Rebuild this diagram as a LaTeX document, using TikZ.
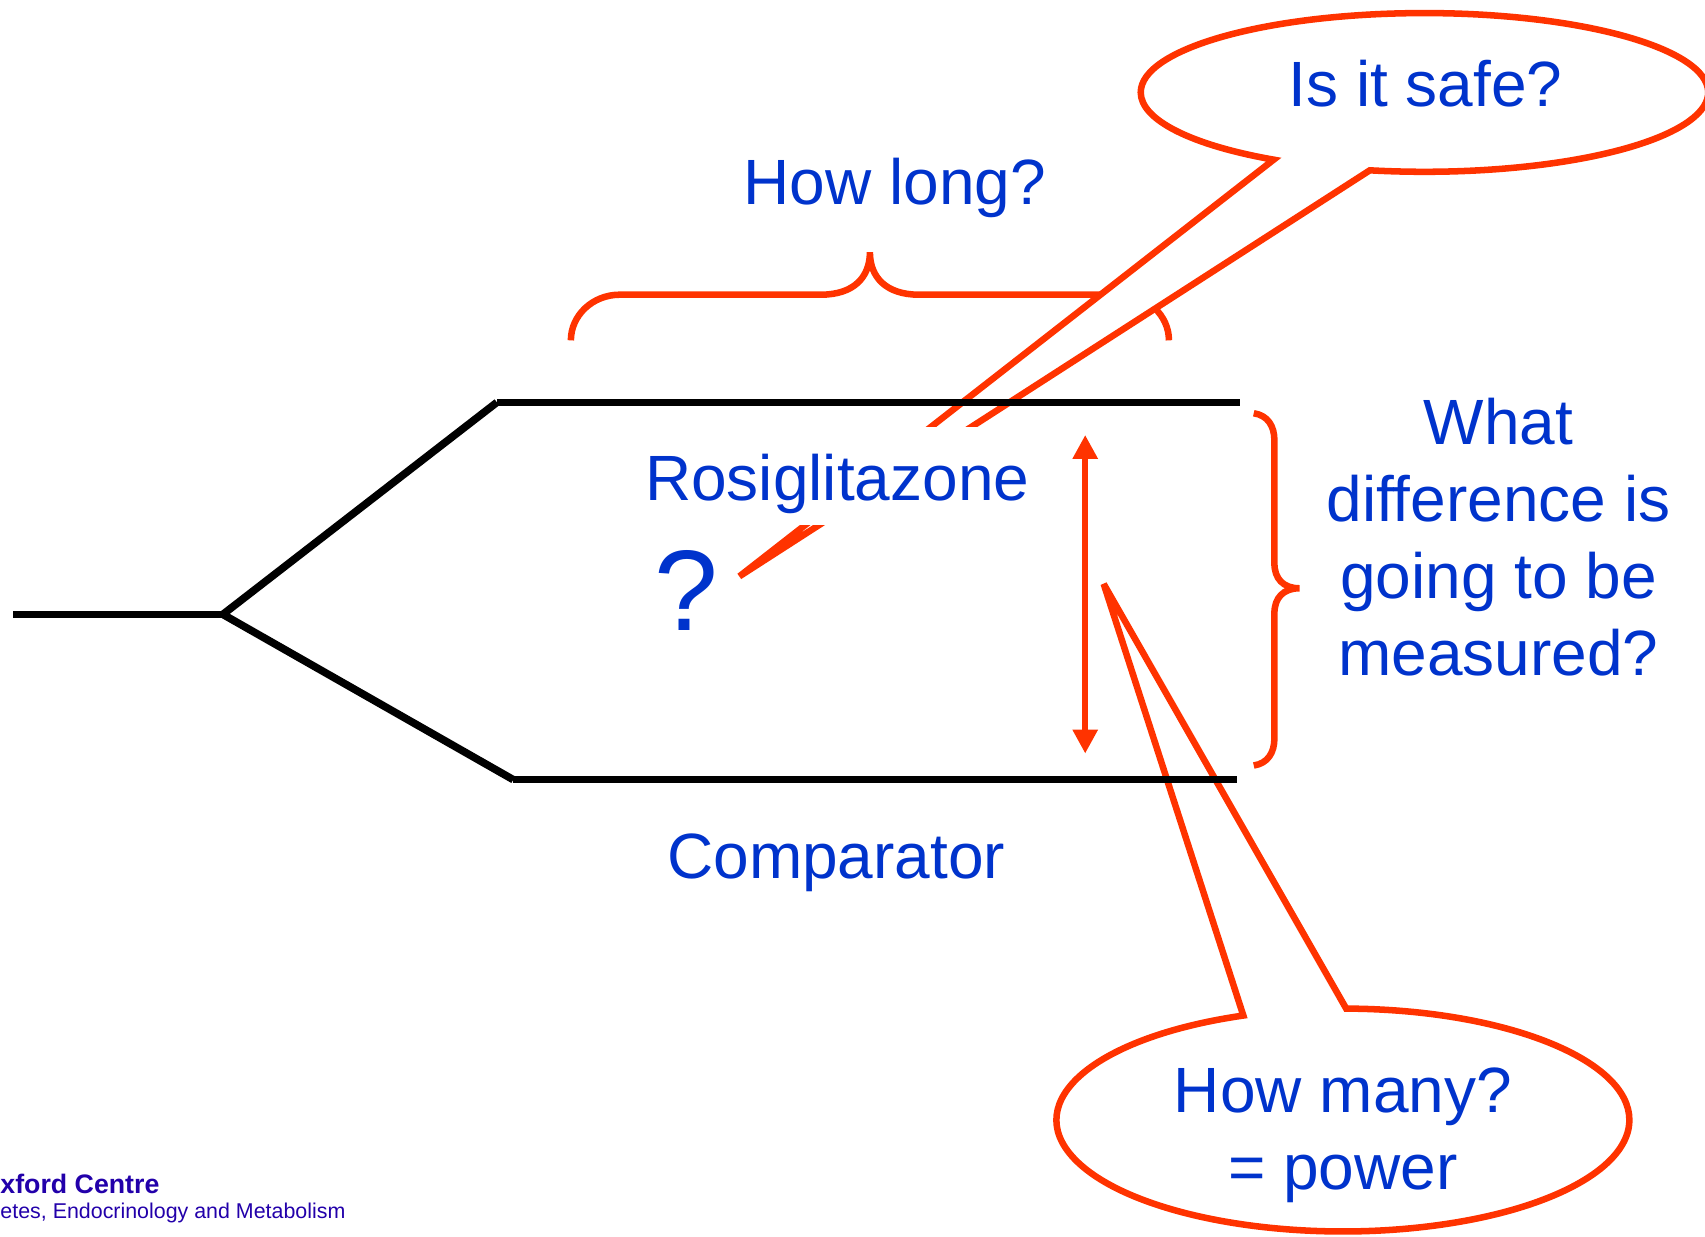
\documentclass[tikz,border=0pt]{standalone}
\usepackage{fontspec}
\setmainfont{Liberation Sans}
\usepackage{tikz}
\usetikzlibrary{arrows.meta,positioning,shapes.callouts}
\definecolor{qblue}{RGB}{0,51,204}
\definecolor{callred}{RGB}{255,51,0}
\definecolor{logoblue}{RGB}{34,0,170}
\newcommand{\qfont}{\fontsize{33.5}{40.2}\selectfont}

\begin{document}
\begin{tikzpicture}[x=0.02cm, y=-0.02cm, >={Triangle[length=0.44cm,width=0.44cm]},
  every node/.style={inner sep=0pt, text=qblue, font=\qfont},
  redline/.style={draw=callred, line width=0.12cm},
  arm/.style={draw=black, line width=0.14cm},
  bubble/.style={ellipse callout, draw=callred, fill=white, line width=0.12cm, miter limit=4, callout pointer arc=21}]
\useasboundingbox (0,0) rectangle (1568,1137);
% trial arms
\coordinate (start) at (12,565);
\coordinate (split) at (205,565);
\coordinate (topL) at (457,370);
\coordinate (topR) at (1140,370);
\coordinate (botL) at (472,717);
\coordinate (botR) at (1138,717);
% braces
\draw[redline] (525,313) .. controls (525,290) and (545,271) .. (570,271) -- (755,271)
  .. controls (785,271) and (800,255) .. (800,232)
  .. controls (800,255) and (815,271) .. (845,271) -- (1030,271)
  .. controls (1055,271) and (1075,290) .. (1075,313);
\draw[redline] (1153,380) .. controls (1166,382) and (1172,392) .. (1172,405) -- (1172,518)
  .. controls (1172,532) and (1180,541) .. (1195,541)
  .. controls (1180,541) and (1172,550) .. (1172,564) -- (1172,679)
  .. controls (1172,692) and (1166,702) .. (1153,704);
% callouts
\coordinate (safetip) at (680,530);
\coordinate (manytip) at (1015,537);
\node[bubble, callout absolute pointer={(safetip)}, minimum width=10.44cm, minimum height=2.92cm] (safecall) at (1310,85) {};
\node[bubble, callout absolute pointer={(manytip)}, minimum width=10.54cm, minimum height=4.1cm] (manycall) at (1235,1030) {};
\draw[arm] (start) -- (split);
\draw[arm] (split) -- (topL);
\draw[arm] (topL) -- (topR);
\draw[arm] (split) -- (botL);
\draw[arm] (botL) -- (botR);
% labels
\node[fill=white, text height=1.34cm, text depth=0.46cm, inner xsep=0.3cm, anchor=base] (rosi) at (770,460) {Rosiglitazone};
\node[anchor=base] (comp) at (769,808) {Comparator};
\node[anchor=base, font=\fontsize{60}{72}\selectfont] (qmark) at (631,580) {?};
\node[anchor=base] (howlong) at (823,188) {How long?};
\node[anchor=base] (safe) at (1311,98) {Is it safe?};
\node[anchor=north, align=center] (what) at (1378,366) {What\\difference is\\going to be\\measured?};
\node[anchor=north, align=center] (many) at (1235,982) {How many?\\= power};
\coordinate (difftop) at (998,400);
\coordinate (diffbot) at (998,693);
\draw[redline, <->] (difftop) -- (diffbot);
% logo
\node[anchor=base east, text=logoblue, font=\fontsize{14}{17}\selectfont\bfseries] (centre) at (147,1098) {xford Centre};
\node[anchor=base east, text=logoblue, font=\fontsize{11.2}{13}\selectfont] (dept) at (318,1121) {etes, Endocrinology and Metabolism};
\end{tikzpicture}
\end{document}
